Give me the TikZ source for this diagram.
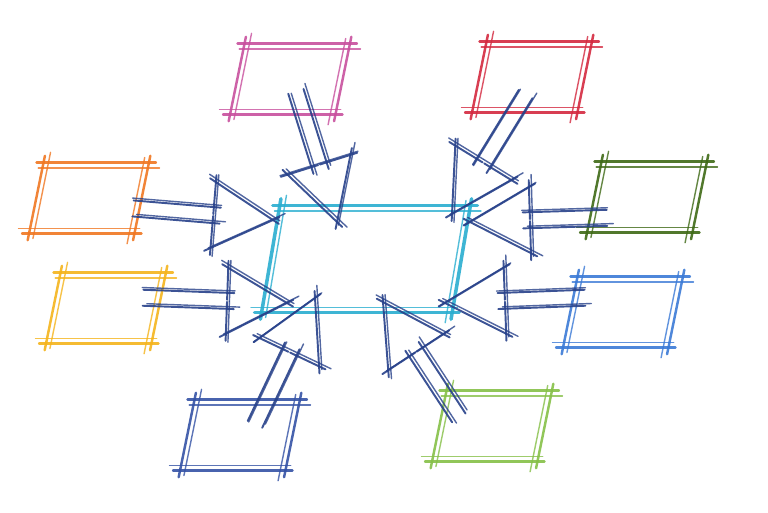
\documentclass[tikz,border=0pt]{standalone}
\usetikzlibrary{calc,shapes.geometric}

\definecolor{pinkpen}{HTML}{C8509E}
\definecolor{redpen}{HTML}{D42A40}
\definecolor{orangepen}{HTML}{F07722}
\definecolor{darkgreenpen}{HTML}{3F6A16}
\definecolor{yellowpen}{HTML}{F5B41C}
\definecolor{bluepen}{HTML}{3B7AD6}
\definecolor{lightgreenpen}{HTML}{86C048}
\definecolor{indigopen}{HTML}{3553A6}
\definecolor{cyanpen}{HTML}{2AAED0}
\definecolor{navypen}{HTML}{27418A}

\tikzset{
  pencil/.style={draw=#1, line width=1.4pt, line cap=round, opacity=0.9, shorten <=-4pt, shorten >=-4pt},
  lightpencil/.style={draw=#1, line width=0.8pt, line cap=round, opacity=0.8, shorten <=-6pt, shorten >=-3pt},
  box/.style={trapezium, trapezium left angle=81, trapezium right angle=99, trapezium stretches=true,
    minimum width=2.38cm, minimum height=1.4cm, inner sep=1pt},
}

% frame of a box, drawn twice like a pencil stroke
\newcommand{\sketchframe}[3]{%
  \foreach \a/\b/\dx/\dy in {bottom left corner/bottom right corner/0/2.8,
      bottom right corner/top right corner/-3/0,
      top right corner/top left corner/0/-3,
      top left corner/bottom left corner/2.8/0}{
    \draw[pencil=#2, line width=#3] (#1.\a) -- (#1.\b);
    \draw[lightpencil=#2] ([xshift=\dx pt, yshift=\dy pt]#1.\a) -- ([xshift=\dx pt, yshift=\dy pt]#1.\b);
  }
}

% outlined block arrow from #1 to #2
\newcommand{\sketcharrow}[2]{%
  \coordinate (hb) at ($(#2)!1.2cm!(#1)$);
  \coordinate (p1) at ($(#1)!0.16cm!90:(#2)$);
  \coordinate (p2) at ($(hb)!0.16cm!90:(#2)$);
  \coordinate (p3) at ($(hb)!0.66cm!90:(#2)$);
  \coordinate (p5) at ($(hb)!0.66cm!-90:(#2)$);
  \coordinate (p6) at ($(hb)!0.16cm!-90:(#2)$);
  \coordinate (p7) at ($(#1)!0.16cm!-90:(#2)$);
  \foreach \u/\v in {p1/p2, p2/p3, p3/#2, #2/p5, p5/p6, p6/p7}{
    \draw[pencil=navypen, line width=1.1pt] (\u) -- (\v);
    \draw[lightpencil=navypen] ([xshift=1.4pt, yshift=1.2pt]\u) -- ([xshift=1.4pt, yshift=1.2pt]\v);
  }
}

\begin{document}
\begin{tikzpicture}[x=0.02cm, y=-0.02cm]
  \useasboundingbox[fill=white] (0,0) rectangle (768,512);

  % Outer boxes
  \node[box] (pink)       at (290,79)  {};
  \node[box] (red)        at (532,77)  {};
  \node[box] (orange)     at (89,198)  {};
  \node[box] (darkgreen)  at (647,197) {};
  \node[box] (yellow)     at (106,308) {};
  \node[box] (blue)       at (623,312) {};
  \node[box] (indigo)     at (240,435) {};
  \node[box] (lightgreen) at (492,426) {};

  \sketchframe{pink}{pinkpen}{1.4pt}
  \sketchframe{red}{redpen}{1.4pt}
  \sketchframe{orange}{orangepen}{1.4pt}
  \sketchframe{darkgreen}{darkgreenpen}{1.4pt}
  \sketchframe{yellow}{yellowpen}{1.4pt}
  \sketchframe{blue}{bluepen}{1.4pt}
  \sketchframe{indigo}{indigopen}{1.4pt}
  \sketchframe{lightgreen}{lightgreenpen}{1.4pt}

  % Centre box
  \node[box, trapezium left angle=84, trapezium right angle=96,
        minimum width=4.16cm, minimum height=2.12cm] (hub) at (366,259) {};
  \sketchframe{hub}{cyanpen}{2pt}

  % Arrow ends
  \coordinate (orange-out)     at (140,209);
  \coordinate (orange-in)      at (273,220);
  \coordinate (yellow-out)     at (150,298);
  \coordinate (yellow-in)      at (287,303);
  \coordinate (pink-out)       at (298,98);
  \coordinate (pink-in)        at (337,222);
  \coordinate (red-out)        at (522,100);
  \coordinate (red-in)         at (452,214);
  \coordinate (darkgreen-out)  at (600,218);
  \coordinate (darkgreen-in)   at (470,222);
  \coordinate (blue-out)       at (578,298);
  \coordinate (blue-in)        at (445,303);
  \coordinate (lightgreen-out) at (455,412);
  \coordinate (lightgreen-in)  at (383,302);
  \coordinate (indigo-out)     at (258,418);
  \coordinate (indigo-in)      at (315,298);

  % Arrows into the centre
  \sketcharrow{orange-out}{orange-in}
  \sketcharrow{yellow-out}{yellow-in}
  \sketcharrow{pink-out}{pink-in}
  \sketcharrow{red-out}{red-in}
  \sketcharrow{darkgreen-out}{darkgreen-in}
  \sketcharrow{blue-out}{blue-in}
  \sketcharrow{lightgreen-out}{lightgreen-in}
  \sketcharrow{indigo-out}{indigo-in}
\end{tikzpicture}
\end{document}
